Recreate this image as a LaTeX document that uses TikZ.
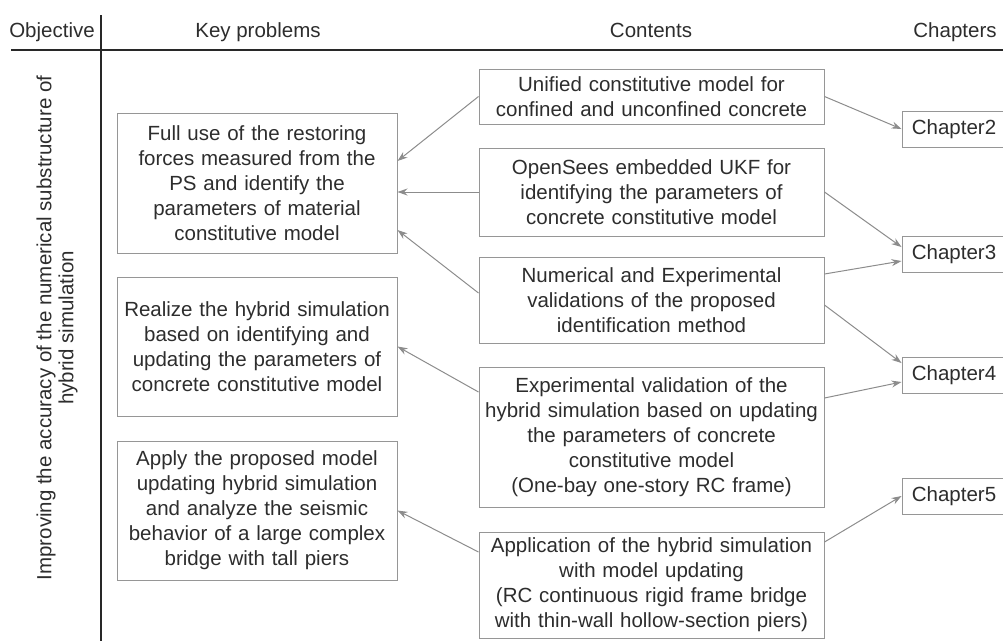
\documentclass[tikz,border=0pt]{standalone}
\usepackage{fontspec}
\setmainfont{Liberation Sans}
\usetikzlibrary{arrows.meta,positioning,calc}
\definecolor{BoxGray}{RGB}{150,150,150}
\definecolor{LinkGray}{RGB}{140,140,140}
\definecolor{InkGray}{RGB}{45,45,45}
\definecolor{RuleBlack}{RGB}{40,40,40}
\newcommand{\boxfont}{\fontsize{20.5}{25}\selectfont}

\begin{document}
\begin{tikzpicture}[x=1pt,y=-1pt,
  every node/.style={text=InkGray,font=\boxfont},
  headtext/.style={anchor=base},
  keybox/.style={draw=BoxGray,line width=1pt,minimum width=280pt,text width=276pt,inner xsep=2pt,inner ysep=0pt,align=center},
  contbox/.style={draw=BoxGray,line width=1pt,minimum width=345pt,text width=343pt,inner xsep=1pt,inner ysep=0pt,align=center},
  chapbox/.style={draw=BoxGray,line width=1pt,minimum width=104pt,minimum height=36pt,inner sep=0pt},
  link/.style={LinkGray,line width=1pt,-{Stealth[length=10pt,width=7pt]}}]
  \useasboundingbox (0,0) rectangle (1003,641);
  % table frame
  \draw[RuleBlack,line width=1.2pt] (11,50)--(1003,50);
  \draw[RuleBlack,line width=1.2pt] (101,15)--(101,641);
  \node[headtext] (hobj) at (52,37) {Objective};
  \node[headtext] (hkey) at (258,37) {Key problems};
  \node[headtext] (hcont) at (651,37) {Contents};
  \node[headtext] (hchap) at (955,37) {Chapters};
  \node[rotate=90,align=center,font=\fontsize{20.5}{22}\selectfont] (obj) at (57,328)
    {Improving the accuracy of the numerical substructure of\\hybrid simulation};
  % key problems
  \node[keybox,minimum height=140pt] (k1) at (257,183) {Full use of the restoring\\forces measured from the\\PS and identify the\\parameters of material\\constitutive model};
  \node[keybox,minimum height=139pt] (k2) at (257,346.5) {Realize the hybrid simulation\\based on identifying and\\updating the parameters of\\concrete constitutive model};
  \node[keybox,minimum height=139pt] (k3) at (257,510.5) {Apply the proposed model\\updating hybrid simulation\\and analyze the seismic\\behavior of a large complex\\bridge with tall piers};
  % contents
  \node[contbox,minimum height=55pt] (c1) at (651.5,96.5) {Unified constitutive model for\\confined and unconfined concrete};
  \node[contbox,minimum height=88pt] (c2) at (651.5,192) {OpenSees embedded UKF for\\identifying the parameters of\\concrete constitutive model};
  \node[contbox,minimum height=86pt] (c3) at (651.5,300) {Numerical and Experimental\\validations of the proposed\\identification method};
  \node[contbox,minimum height=140pt] (c4) at (651.5,437) {Experimental validation of the\\hybrid simulation based on updating\\the parameters of concrete\\constitutive model\\(One-bay one-story RC frame)};
  \node[contbox,minimum height=106pt] (c5) at (651.5,585) {Application of the hybrid simulation\\with model updating\\(RC continuous rigid frame bridge\\with thin-wall hollow-section piers)};
  % chapters
  \node[chapbox] (ch2) at (954,129) {Chapter2};
  \node[chapbox] (ch3) at (954,254.5) {Chapter3};
  \node[chapbox] (ch4) at (954,375) {Chapter4};
  \node[chapbox] (ch5) at (954,496) {Chapter5};
  % links to key problems
  \draw[link] (c1.west)--([yshift=22pt]k1.east);
  \draw[link] (c2.west)--(k1.east |- c2.west);
  \draw[link] ([yshift=7pt]c3.west)--([yshift=-47pt]k1.east);
  \draw[link] ([yshift=45pt]c4.west)--(k2.east);
  \draw[link] ([yshift=33pt]c5.west)--(k3.east);
  % links to chapters
  \draw[link] (c1.east)--(ch2.west);
  \draw[link] (c2.east)--([yshift=7.5pt]ch3.west);
  \draw[link] ([yshift=26pt]c3.east)--([yshift=-6.5pt]ch3.west);
  \draw[link] ([yshift=-5pt]c3.east)--([yshift=12pt]ch4.west);
  \draw[link] ([yshift=39pt]c4.east)--([yshift=-7pt]ch4.west);
  \draw[link] ([yshift=43pt]c5.east)--(ch5.west);
\end{tikzpicture}
\end{document}
